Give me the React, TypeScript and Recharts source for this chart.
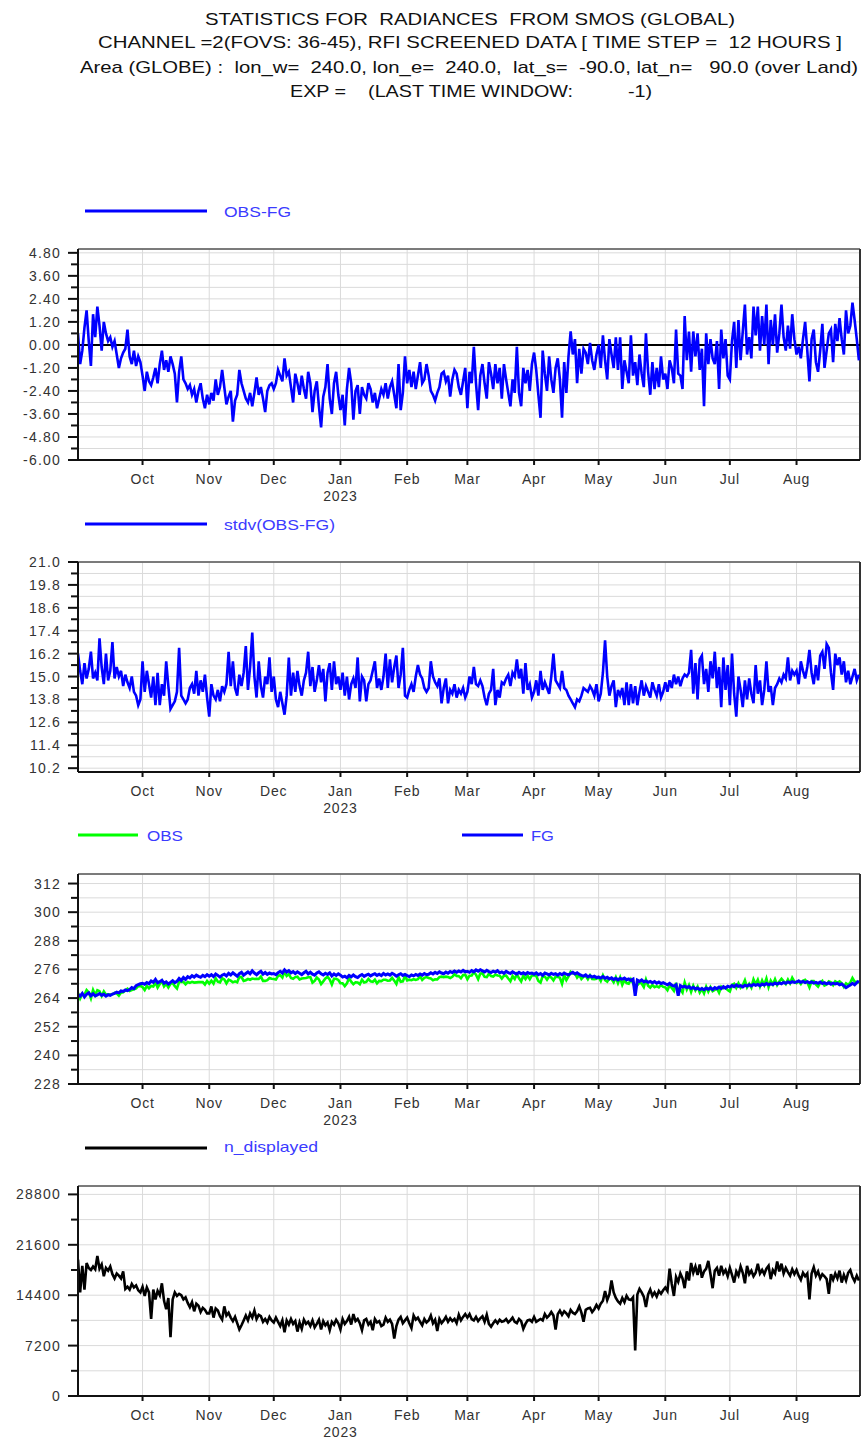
import React from 'react';
import { LineChart, Line, XAxis, YAxis, CartesianGrid, ReferenceLine } from 'recharts';

const FONT = '"Liberation Sans", Arial, Helvetica, sans-serif';

// x axis: days since 2022-09-01
const monthTicks = [30, 61, 91, 122, 153, 181, 212, 242, 273, 303, 334];
const monthLabels = ['Oct', 'Nov', 'Dec', 'Jan', 'Feb', 'Mar', 'Apr', 'May', 'Jun', 'Jul', 'Aug'];
const yearLabels = ['', '', '', '2023', '', '', '', '', '', '', ''];
const X_MAX = 363.5;

const titleLines = [
  'STATISTICS FOR  RADIANCES  FROM SMOS (GLOBAL)',
  'CHANNEL =2(FOVS: 36-45), RFI SCREENED DATA [ TIME STEP =  12 HOURS ]',
  'Area (GLOBE) :  lon_w=  240.0, lon_e=  240.0,  lat_s=  -90.0, lat_n=   90.0 (over Land)',
  'EXP =    (LAST TIME WINDOW:          -1)',
];

// OBS-FG (daily, Sep 2022 .. Aug 2023)
const obsFg = [
  0.6, -1.0, -0.3, 0.9, 1.8, 0.2, -1.1, 1.6, 0.4, 2.0, 1.0, -0.3, 1.2, 0.6, 0.2, 0.4, -0.1, 0.2, -0.5, -1.2, -0.7, -0.4, -0.2, 0.8, -0.6, -1.0, -0.3, -1.1, -0.6, -0.9,
  -1.6, -2.4, -1.4, -1.9, -2.1, -1.7, -1.2, -2.0, -1.0, -0.3, -1.3, -0.8, -1.4, -0.6, -1.0, -1.5, -3.0, -1.4, -0.6, -1.8, -2.0, -2.3, -2.1, -2.6, -2.3, -3.0, -2.4, -2.0, -2.8, -3.3, -2.6,
  -3.1, -2.5, -2.9, -1.8, -2.6, -2.2, -1.3, -2.2, -3.1, -2.7, -2.4, -4.0, -2.9, -2.6, -1.3, -2.0, -2.4, -2.8, -3.0, -2.5, -3.2, -2.5, -1.7, -2.6, -2.2, -2.8, -3.5, -2.4, -2.1, -2.0,
  -2.3, -2.0, -1.3, -1.6, -1.9, -0.7, -1.6, -1.4, -2.2, -3.0, -1.5, -2.0, -2.6, -1.6, -2.3, -2.8, -1.4, -2.0, -3.5, -2.4, -1.9, -3.2, -4.3, -2.7, -2.2, -1.0, -2.8, -3.6, -2.0, -1.4, -2.6,
  -3.4, -2.6, -4.2, -2.3, -1.2, -2.0, -3.9, -2.4, -2.1, -3.6, -2.2, -2.6, -2.8, -2.0, -2.3, -3.0, -2.5, -3.3, -2.8, -2.3, -2.6, -2.0, -2.8, -2.2, -1.9, -2.6, -3.3, -1.0, -3.4, -2.5, -0.6,
  -2.0, -1.3, -2.2, -1.4, -2.3, -1.6, -0.9, -2.0, -1.8, -1.0, -1.6, -2.4, -2.6, -2.9, -2.5, -2.2, -1.5, -1.4, -1.9, -1.6, -2.7, -1.8, -1.3, -1.5, -2.2, -2.6, -1.9, -1.2,
  -3.3, -1.4, -2.0, -0.1, -2.0, -3.4, -1.6, -1.0, -2.0, -2.8, -0.9, -1.5, -2.3, -1.0, -2.0, -1.2, -2.8, -1.0, -1.8, -2.5, -3.2, -1.8, -2.5, -0.1, -2.5, -3.2, -1.2, -2.0, -1.3, -2.4, -1.0,
  -0.4, -1.3, -2.6, -3.8, -0.3, -1.5, -2.4, -0.6, -1.8, -2.5, -1.2, -0.7, -1.8, -3.8, -0.9, -2.5, -0.6, 0.7, -0.5, 0.3, -2.0, -0.2, -1.5, -0.2, -0.4, -1.0, 0.1, -0.8, -1.3, -0.5,
  0.0, -1.2, 0.5, -0.8, -1.8, 0.3, -0.5, -1.2, 0.4, -1.3, 0.4, -2.3, -0.8, -1.4, -2.0, 0.5, -1.6, -0.9, -2.1, -0.5, -1.5, -2.2, 0.6, -1.4, -2.6, -0.9, -2.3, -1.2, -2.2, -0.6, -1.8,
  -1.5, -2.3, -0.8, -1.2, -2.0, 0.8, -1.5, -1.6, -2.3, 1.5, -0.8, 0.7, -1.4, 0.7, -0.6, 0.6, -1.3, -0.2, -3.2, 0.6, -1.0, 0.3, -0.7, -1.0, 0.2, -2.3, 0.8, -0.7, 0.3, -1.6,
  -1.8, 0.2, 1.2, -1.2, 1.3, -0.8, 0.7, 2.1, -0.5, 0.4, -0.7, 2.0, 0.5, 2.0, -0.3, 1.5, 0.0, 2.1, -1.0, 1.3, 0.0, 1.6, -0.4, 0.6, 2.1, 0.4, -0.3, 1.0, -0.2, 1.6, 0.3,
  -0.5, -0.1, -0.7, 0.3, 1.2, -0.3, -1.9, 0.3, 0.8, -0.9, -1.4, -0.3, 1.1, -1.2, -0.3, 0.6, 0.8, -0.9, 1.1, 0.2, 1.4, 0.3, -0.5, 1.8, 0.6, 1.0, 2.2, 1.3, 0.3, -0.8,
];

// stdv(OBS-FG)
const stdv = [
  16.2, 15.3, 14.6, 15.7, 14.9, 15.4, 16.3, 14.9, 15.2, 14.8, 17.0, 15.5, 14.6, 16.2, 14.8, 15.3, 16.8, 14.9, 15.5, 15.0, 15.3, 14.5, 15.1, 14.7, 14.4, 15.0, 14.2, 14.0, 13.5, 13.8,
  15.8, 14.2, 15.3, 14.6, 13.9, 15.0, 13.5, 15.2, 13.5, 14.6, 14.0, 15.8, 14.5, 13.3, 13.5, 13.7, 14.2, 16.5, 14.0, 13.8, 13.6, 13.8, 14.4, 14.6, 14.1, 15.3, 14.0, 14.8, 14.2, 15.1, 13.9,
  12.9, 14.6, 14.0, 13.8, 14.3, 13.7, 14.5, 14.2, 14.6, 16.3, 14.5, 15.8, 14.4, 14.0, 15.1, 14.5, 15.2, 16.6, 14.3, 15.5, 17.3, 15.0, 13.9, 15.8, 14.5, 13.9, 15.0, 14.6, 16.0, 14.2,
  15.0, 13.8, 13.4, 14.2, 13.6, 13.0, 14.0, 16.0, 14.0, 15.2, 14.2, 15.3, 14.5, 14.0, 14.8, 15.2, 16.3, 14.5, 15.5, 14.2, 14.8, 15.6, 14.7, 15.4, 13.7, 15.2, 15.7, 14.3, 15.8, 14.6, 15.0,
  14.3, 15.2, 14.0, 15.0, 13.8, 14.6, 14.9, 14.4, 16.0, 13.7, 15.0, 14.8, 13.7, 14.6, 14.8, 15.3, 15.8, 14.4, 14.9, 14.3, 15.0, 16.2, 14.4, 15.9, 14.7, 15.5, 16.1, 14.4, 15.1, 16.5, 14.0,
  13.9, 14.3, 14.6, 14.2, 15.0, 15.6, 15.1, 14.9, 14.4, 14.2, 14.4, 15.8, 15.0, 14.7, 14.5, 14.9, 13.6, 14.4, 14.9, 13.6, 14.3, 14.1, 14.6, 13.9, 14.3, 14.1, 14.4, 13.9,
  14.2, 15.0, 14.6, 15.5, 14.6, 14.5, 14.8, 14.5, 13.9, 13.5, 14.1, 14.3, 15.4, 13.5, 14.3, 13.9, 14.7, 14.6, 14.9, 15.1, 14.5, 15.2, 15.0, 15.9, 14.9, 15.4, 14.1, 15.7, 14.3, 14.6, 13.9,
  14.2, 14.8, 14.0, 15.3, 14.3, 14.7, 14.4, 14.1, 15.0, 16.2, 14.8, 14.6, 14.4, 15.3, 14.4, 14.3, 14.0, 13.8, 13.6, 13.4, 13.8, 13.7, 14.0, 14.4, 14.3, 14.2, 14.5, 14.3, 14.0, 14.6,
  13.7, 14.1, 15.2, 16.9, 15.0, 14.0, 14.5, 14.8, 13.4, 14.3, 14.0, 14.4, 13.5, 14.7, 13.5, 14.6, 13.6, 14.5, 13.5, 14.2, 14.8, 14.0, 14.5, 14.2, 13.9, 14.7, 14.3, 14.0, 14.6, 13.9, 14.2,
  14.7, 14.2, 14.8, 14.4, 15.1, 14.6, 15.0, 14.5, 14.9, 15.1, 15.0, 15.2, 16.4, 14.1, 15.7, 13.8, 15.9, 16.1, 14.6, 15.4, 14.2, 15.8, 14.9, 16.3, 14.4, 15.5, 13.4, 16.0, 14.3, 15.6,
  13.5, 16.2, 14.1, 12.9, 15.0, 14.3, 13.4, 14.8, 13.8, 14.9, 14.1, 13.6, 15.6, 14.1, 14.8, 13.5, 14.3, 15.8, 14.2, 14.5, 13.5, 14.4, 14.6, 14.9, 14.7, 15.1, 14.9, 16.0, 14.8, 15.3, 15.1,
  15.3, 14.6, 15.8, 15.3, 14.9, 15.5, 16.4, 15.2, 14.6, 15.6, 14.8, 16.1, 16.3, 15.4, 16.7, 16.5, 15.2, 14.3, 16.2, 15.6, 16.0, 15.1, 15.8, 14.7, 15.3, 14.6, 15.0, 15.4, 14.8, 15.1,
];

// OBS
const obs = [
  266.1, 263.8, 265.7, 265.4, 267.4, 266.4, 263.9, 267.4, 265.3, 267.3, 266.9, 264.9, 266.8, 265.4, 265.6, 265.5, 265.6, 266.2, 266.0, 265.0, 266.3, 266.4, 267.2, 267.9, 267.0, 267.4, 267.7, 268.1, 269.0, 269.1,
  268.6, 267.4, 269.1, 268.1, 269.1, 268.9, 270.6, 268.4, 269.9, 271.2, 268.9, 270.0, 268.5, 270.0, 270.3, 269.0, 268.0, 270.8, 270.8, 270.8, 269.8, 270.7, 270.4, 270.8, 270.5, 270.6, 270.7, 270.7, 270.7, 269.7, 271.2,
  270.1, 271.3, 270.1, 272.3, 270.9, 270.6, 272.3, 271.8, 270.2, 271.7, 271.3, 270.6, 271.0, 270.6, 272.9, 272.8, 271.2, 271.5, 272.0, 271.7, 272.2, 272.0, 272.1, 272.0, 273.0, 271.2, 271.2, 271.5, 272.4, 272.1,
  272.0, 271.8, 273.3, 273.6, 272.6, 275.1, 273.3, 274.1, 272.4, 272.1, 272.8, 273.0, 271.8, 272.2, 272.3, 272.4, 272.7, 272.8, 270.5, 271.2, 272.6, 271.8, 269.9, 271.0, 272.2, 272.9, 271.8, 269.7, 272.1, 272.1, 271.6,
  270.2, 270.2, 269.0, 270.2, 272.3, 270.9, 269.8, 270.6, 270.5, 269.8, 271.7, 270.5, 270.8, 272.0, 271.0, 270.8, 271.7, 270.2, 271.2, 271.1, 271.7, 271.7, 271.3, 271.4, 272.5, 271.3, 269.9, 272.8, 270.8, 271.0, 273.3,
  271.4, 271.7, 271.5, 271.9, 271.6, 271.9, 273.2, 271.6, 272.5, 272.8, 272.4, 272.2, 271.5, 271.9, 271.8, 272.8, 273.0, 272.8, 273.0, 272.8, 272.4, 272.9, 274.0, 273.3, 273.2, 272.3, 273.7, 273.8,
  271.9, 273.4, 273.5, 274.9, 273.8, 271.9, 274.3, 274.4, 272.9, 272.8, 274.2, 273.2, 273.0, 273.9, 273.5, 273.4, 272.2, 273.4, 273.4, 272.2, 271.1, 273.2, 272.0, 274.0, 272.3, 271.0, 273.4, 272.0, 273.4, 271.9, 273.5,
  273.6, 273.3, 271.2, 270.5, 273.2, 273.0, 271.7, 273.1, 272.6, 271.4, 273.0, 272.9, 272.5, 270.0, 273.6, 271.5, 273.1, 275.0, 274.3, 274.4, 272.6, 273.7, 272.0, 273.0, 273.3, 271.9, 273.5, 272.0, 271.9, 272.1,
  272.8, 271.2, 273.5, 271.5, 270.9, 272.3, 272.0, 270.6, 272.7, 270.3, 272.6, 269.6, 271.6, 270.3, 270.0, 271.9, 270.3, 268.5, 269.4, 270.5, 270.1, 268.6, 271.8, 269.2, 268.4, 269.5, 268.6, 269.0, 268.5, 269.5, 268.7,
  268.5, 267.3, 269.4, 268.2, 267.0, 270.4, 266.5, 267.6, 266.3, 270.5, 267.6, 269.5, 266.6, 269.2, 267.2, 268.8, 266.3, 267.8, 266.0, 268.8, 266.7, 268.6, 266.9, 267.4, 268.1, 266.3, 268.8, 268.1, 268.5, 267.4,
  266.8, 269.5, 270.0, 268.3, 270.2, 268.4, 269.4, 271.5, 268.5, 270.0, 268.4, 271.8, 269.8, 271.7, 268.9, 271.4, 269.5, 272.2, 268.6, 271.3, 269.7, 271.9, 269.5, 271.0, 272.1, 271.0, 269.9, 271.8, 270.2, 272.5, 270.9,
  270.3, 271.1, 269.9, 271.3, 271.7, 270.6, 268.5, 271.1, 271.1, 269.7, 268.8, 270.4, 271.2, 269.3, 269.7, 271.0, 270.6, 269.4, 271.0, 270.4, 271.0, 270.2, 268.7, 270.2, 269.6, 270.5, 272.4, 270.9, 270.8, 270.4,
];

// FG
const fg = [
  265.5, 264.8, 266.0, 264.5, 265.6, 266.2, 265.0, 265.8, 264.9, 265.3, 265.9, 265.2, 265.6, 264.8, 265.4, 265.1, 265.7, 266.0, 266.5, 266.2, 267.0, 266.8, 267.4, 267.1, 267.6, 268.4, 268.0, 269.2, 269.6, 270.0,
  270.2, 269.8, 270.5, 270.0, 271.2, 270.6, 271.8, 270.4, 270.9, 271.5, 270.2, 270.8, 269.9, 270.6, 271.3, 270.5, 271.0, 272.2, 271.4, 272.6, 271.8, 273.0, 272.5, 273.4, 272.8, 273.6, 273.1, 272.7, 273.5, 273.0, 273.8,
  273.2, 273.8, 273.0, 274.1, 273.5, 272.8, 273.6, 274.0, 273.3, 274.4, 273.7, 274.6, 273.9, 273.2, 274.2, 274.8, 273.6, 274.3, 275.0, 274.2, 275.4, 274.5, 273.8, 274.6, 275.2, 274.0, 274.7, 273.9, 274.5, 274.1,
  274.3, 273.8, 274.6, 275.2, 274.5, 275.8, 274.9, 275.5, 274.6, 275.1, 274.3, 275.0, 274.4, 273.8, 274.6, 275.2, 274.1, 274.8, 274.0, 273.6, 274.5, 275.0, 274.2, 273.7, 274.4, 273.9, 274.6, 273.3, 274.1, 273.5, 274.2,
  273.6, 272.8, 273.2, 272.5, 273.5, 272.9, 273.7, 273.0, 272.6, 273.4, 273.9, 273.1, 273.6, 274.0, 273.3, 273.8, 274.2, 273.5, 274.0, 273.4, 274.3, 273.7, 274.1, 273.6, 274.4, 273.9, 273.2, 273.8, 274.2, 273.5, 273.9,
  273.4, 273.0, 273.7, 273.3, 273.9, 273.5, 274.1, 273.6, 274.3, 273.8, 274.0, 274.6, 274.1, 274.8, 274.3, 275.0, 274.5, 274.2, 274.9, 274.4, 275.1, 274.7, 275.3, 274.8, 275.4, 274.9, 275.6, 275.0,
  275.2, 274.8, 275.5, 275.0, 275.8, 275.3, 275.9, 275.4, 274.9, 275.6, 275.1, 274.7, 275.3, 274.9, 275.5, 274.6, 275.0, 274.4, 275.2, 274.7, 274.3, 275.0, 274.5, 274.1, 274.8, 274.2, 274.6, 274.0, 274.7, 274.3, 274.5,
  274.0, 274.6, 273.8, 274.3, 273.5, 274.5, 274.1, 273.7, 274.4, 273.9, 274.2, 273.6, 274.3, 273.8, 274.5, 274.0, 273.7, 274.3, 274.8, 274.1, 274.6, 273.9, 273.5, 273.2, 273.7, 272.9, 273.4, 272.8, 273.2, 272.6,
  272.8, 272.4, 273.0, 272.3, 272.7, 272.0, 272.5, 271.8, 272.3, 271.6, 272.2, 271.9, 272.4, 271.7, 272.0, 271.4, 271.9, 265.0, 271.5, 271.0, 271.6, 270.8, 271.2, 270.6, 271.0, 270.4, 270.9, 270.2, 270.7, 270.1, 270.5,
  270.0, 269.6, 270.2, 269.4, 269.0, 269.6, 265.0, 269.2, 268.6, 269.0, 268.4, 268.8, 268.0, 268.5, 267.8, 268.2, 267.6, 268.0, 267.5, 268.2, 267.7, 268.3, 267.6, 268.4, 267.9, 268.6, 268.0, 268.8, 268.2, 269.0,
  268.6, 269.3, 268.8, 269.5, 268.9, 269.2, 268.7, 269.4, 269.0, 269.6, 269.1, 269.8, 269.3, 269.7, 269.2, 269.9, 269.5, 270.1, 269.6, 270.0, 269.7, 270.3, 269.9, 270.4, 270.0, 270.6, 270.2, 270.8, 270.4, 270.9, 270.6,
  270.8, 271.2, 270.6, 271.0, 270.5, 270.9, 270.4, 270.8, 270.3, 270.6, 270.2, 270.7, 270.1, 270.5, 270.0, 270.4, 269.8, 270.3, 269.9, 270.2, 269.6, 269.9, 269.2, 268.4, 269.0, 269.5, 270.2, 269.6, 270.5, 271.2,
];

// n_displayed
const nDisplayed = [
  19500, 14800, 18600, 15200, 19000, 18300, 18000, 18500, 18100, 20000, 18200, 18800, 17100, 18300, 17900, 18500, 17400, 16800, 17500, 17200, 16800, 17800, 15300, 15600, 15200, 16000, 15500, 15800, 15100, 14800,
  15600, 14300, 15500, 14800, 11000, 15200, 13800, 15000, 14400, 16100, 13600, 12400, 14000, 8400, 13800, 14800, 14300, 14600, 14400, 13800, 14100, 13300, 12700, 13400, 12100, 13200, 12900, 12000, 12600, 12300, 11800,
  11800, 12800, 11200, 12500, 12200, 11400, 10900, 12800, 11500, 11900, 11200, 10700, 11300, 10400, 9500, 10100, 10800, 11500, 10800, 11800, 11200, 12200, 11000, 11600, 11400, 10600, 11000, 10500, 11300, 10800,
  10500, 11200, 10600, 10000, 10800, 9100, 10800, 10200, 11000, 10300, 10700, 9200, 10500, 9600, 10900, 10300, 10600, 10000, 10800, 9800, 10300, 10900, 9500, 10700, 10100, 10500, 9400, 10600, 10200, 10900, 10400,
  9500, 11000, 10300, 10700, 11300, 10200, 11700, 10700, 11000, 10400, 9400, 10800, 11000, 10200, 10600, 9400, 11000, 10500, 10700, 10000, 10200, 11200, 10600, 10900, 10300, 8200, 10000, 10900, 11300, 10400, 10800,
  11200, 10400, 9700, 11500, 10900, 11200, 10600, 10100, 11000, 10500, 10800, 11500, 10400, 10900, 9300, 11000, 10400, 10800, 11300, 10600, 11100, 10700, 11000, 10400, 11600, 10800, 11300, 11700,
  11200, 11700, 11000, 10800, 11300, 10700, 11100, 11400, 10600, 11600, 10300, 9900, 10400, 10800, 10400, 10900, 10600, 10700, 11000, 10500, 10800, 11200, 10600, 10400, 11000, 10700, 9600, 10300, 10800, 10900, 10600,
  11300, 10600, 10800, 11000, 10800, 11700, 11200, 11500, 12000, 11500, 9500, 11700, 12200, 11600, 12100, 11800, 11400, 12300, 11900, 11700, 12100, 12800, 11900, 10600, 12300, 12500, 12600, 12000, 12400, 13000,
  12500, 13200, 13600, 15000, 13700, 14500, 16500, 14800, 14000, 13500, 13200, 14000, 13400, 14300, 13800, 13700, 14100, 6500, 14500, 15300, 14800, 14200, 12700, 14500, 15200, 14300, 14800, 14200, 15000, 14600, 15100,
  15500, 15000, 18200, 16000, 14300, 17000, 16300, 17500, 16800, 15400, 17800, 16500, 19000, 17600, 18500, 17300, 18800, 16900, 17800, 18200, 19300, 17400, 15400, 17900, 18300, 17200, 18600, 17500, 18000, 17100,
  18300, 17300, 16200, 17800, 17200, 18500, 17600, 16100, 18600, 17400, 17900, 17100, 17600, 18900, 17500, 18000, 17400, 18200, 18600, 16700, 18000, 17500, 19200, 17800, 18900, 17500, 18300, 17700, 17200, 18100, 17400,
  18000, 17200, 16600, 17600, 17100, 17500, 13800, 17500, 18400, 17200, 17800, 16800, 17400, 17100, 16700, 14600, 17400, 16600, 17500, 16800, 17900, 16200, 17300, 16500, 17600, 18000, 17000, 16400, 17200, 16500,
];

// y ticks (every second one labelled)
const yTicks1 = [-6.0, -5.4, -4.8, -4.2, -3.6, -3.0, -2.4, -1.8, -1.2, -0.6, 0.0, 0.6, 1.2, 1.8, 2.4, 3.0, 3.6, 4.2, 4.8];
const yTicks2 = [10.2, 10.8, 11.4, 12.0, 12.6, 13.2, 13.8, 14.4, 15.0, 15.6, 16.2, 16.8, 17.4, 18.0, 18.6, 19.2, 19.8, 20.4, 21.0];
const yTicks3 = [228, 234, 240, 246, 252, 258, 264, 270, 276, 282, 288, 294, 300, 306, 312];
const yTicks4 = [0, 3600, 7200, 10800, 14400, 18000, 21600, 25200, 28800];

const rows = obsFg.map((v, i) => ({
  day: i,
  obsFg: v,
  stdv: stdv[i],
  obs: obs[i],
  fg: fg[i],
  n: nDisplayed[i],
}));

const AXIS_COLOR = '#111';
const LABEL_COLOR = '#333';
const LEGEND_TEXT = '#3b3bff';
const SERIES_W = 2.6;

const XTick = (props: any) => {
  const { x, y, payload } = props;
  const i = monthTicks.indexOf(payload.value);
  return (
    <g>
      <line x1={x} x2={x} y1={y} y2={y + 5} stroke={AXIS_COLOR} strokeWidth={2} />
      <text x={x} y={y + 24} textAnchor="middle" fontSize={14} fill={LABEL_COLOR} fontFamily={FONT} letterSpacing={0.8}>
        {monthLabels[i]}
      </text>
      {yearLabels[i] ? (
        <text x={x} y={y + 41} textAnchor="middle" fontSize={14} fill={LABEL_COLOR} fontFamily={FONT} letterSpacing={0.8}>
          {yearLabels[i]}
        </text>
      ) : null}
    </g>
  );
};

const makeYTick = (ticks: number[], fmt: (v: number) => string) => (props: any) => {
  const { x, y, payload } = props;
  const idx = ticks.indexOf(payload.value);
  const major = idx % 2 === 0;
  return (
    <g>
      <line x1={x - (major ? 10 : 7)} x2={x} y1={y} y2={y} stroke={AXIS_COLOR} strokeWidth={2} />
      {major ? (
        <text x={x - 17} y={y} dy={5} textAnchor="end" fontSize={14} fill={LABEL_COLOR} fontFamily={FONT} letterSpacing={1.2}>
          {fmt(payload.value)}
        </text>
      ) : null}
    </g>
  );
};

type PanelProps = {
  top: number;
  plotH: number;
  domain: [number, number];
  ticks: number[];
  fmt: (v: number) => string;
  children: React.ReactNode;
};

const Y_AXIS_W = 78;

function Panel({ top, plotH, domain, ticks, fmt, children }: PanelProps) {
  const height = 10 + plotH + 45;
  return (
    <div style={{ position: 'absolute', left: 0, top: top - 10 }}>
      <LineChart width={862} height={height} data={rows} margin={{ top: 10, right: 2, left: 0, bottom: 0 }}>
        <CartesianGrid stroke="#dadada" strokeWidth={1} />
        <XAxis
          dataKey="day"
          type="number"
          domain={[0, X_MAX]}
          ticks={monthTicks}
          interval={0}
          allowDataOverflow
          height={45}
          tickSize={0}
          tickMargin={0}
          tickLine={false}
          axisLine={{ stroke: AXIS_COLOR, strokeWidth: 2 }}
          tick={XTick}
        />
        <YAxis
          type="number"
          domain={domain}
          ticks={ticks}
          interval={0}
          allowDataOverflow
          width={Y_AXIS_W}
          tickSize={0}
          tickMargin={0}
          tickLine={false}
          axisLine={{ stroke: AXIS_COLOR, strokeWidth: 2 }}
          tick={makeYTick(ticks, fmt)}
        />
        <ReferenceLine y={domain[1]} stroke="#555" strokeWidth={1.5} />
        <ReferenceLine x={X_MAX} stroke="#333" strokeWidth={2} />
        {children}
      </LineChart>
    </div>
  );
}

const fmt2 = (v: number) => v.toFixed(2);
const fmt1 = (v: number) => v.toFixed(1);
const fmt0 = (v: number) => String(Math.round(v));

export default function App() {
  return (
    <div style={{ position: 'absolute', left: 0, top: 0, width: 862, height: 1441, background: '#fff', fontFamily: FONT }}>
      <svg width={862} height={1441} style={{ position: 'absolute', left: 0, top: 0 }}>
        <g fontFamily={FONT} fontSize={17} fill="#111">
          <text xmlSpace="preserve" x={205} y={24.5} textLength={530} lengthAdjust="spacingAndGlyphs">{titleLines[0]}</text>
          <text xmlSpace="preserve" x={98} y={48} textLength={744} lengthAdjust="spacingAndGlyphs">{titleLines[1]}</text>
          <text xmlSpace="preserve" x={80} y={72.5} textLength={778} lengthAdjust="spacingAndGlyphs">{titleLines[2]}</text>
          <text xmlSpace="preserve" x={290} y={96.5} textLength={362} lengthAdjust="spacingAndGlyphs">{titleLines[3]}</text>
        </g>
        <g fontFamily={FONT} fontSize={15} fill={LEGEND_TEXT}>
          <line x1={85} x2={207} y1={211} y2={211} stroke="#0000ff" strokeWidth={3} />
          <text x={224} y={216.5} textLength={67} lengthAdjust="spacingAndGlyphs">OBS-FG</text>
          <line x1={85} x2={207} y1={524} y2={524} stroke="#0000ff" strokeWidth={3} />
          <text x={224} y={529.5} textLength={111} lengthAdjust="spacingAndGlyphs">stdv(OBS-FG)</text>
          <line x1={78} x2={138} y1={835} y2={835} stroke="#00ff00" strokeWidth={3} />
          <text x={147} y={840.5} textLength={36} lengthAdjust="spacingAndGlyphs">OBS</text>
          <line x1={462} x2={523} y1={835} y2={835} stroke="#0000ff" strokeWidth={3} />
          <text x={531} y={840.5} textLength={23} lengthAdjust="spacingAndGlyphs">FG</text>
          <line x1={85} x2={207} y1={1148} y2={1148} stroke="#000" strokeWidth={3} />
          <text x={224} y={1152} textLength={94} lengthAdjust="spacingAndGlyphs">n_displayed</text>
        </g>
      </svg>

      <Panel top={249} plotH={211} domain={[-6, 5]} ticks={yTicks1} fmt={fmt2}>
        <ReferenceLine y={0} stroke="#000" strokeWidth={2} />
        <Line dataKey="obsFg" type="linear" stroke="#0000ff" strokeWidth={SERIES_W} dot={false} isAnimationActive={false} />
      </Panel>

      <Panel top={562} plotH={210} domain={[10, 21]} ticks={yTicks2} fmt={fmt1}>
        <Line dataKey="stdv" type="linear" stroke="#0000ff" strokeWidth={SERIES_W} dot={false} isAnimationActive={false} />
      </Panel>

      <Panel top={874} plotH={210} domain={[228, 316]} ticks={yTicks3} fmt={fmt0}>
        <Line dataKey="obs" type="linear" stroke="#00ff00" strokeWidth={SERIES_W} dot={false} isAnimationActive={false} />
        <Line dataKey="fg" type="linear" stroke="#0000ff" strokeWidth={3} dot={false} isAnimationActive={false} />
      </Panel>

      <Panel top={1186} plotH={210} domain={[0, 30000]} ticks={yTicks4} fmt={fmt0}>
        <Line dataKey="n" type="linear" stroke="#000" strokeWidth={SERIES_W} dot={false} isAnimationActive={false} />
      </Panel>
    </div>
  );
}
